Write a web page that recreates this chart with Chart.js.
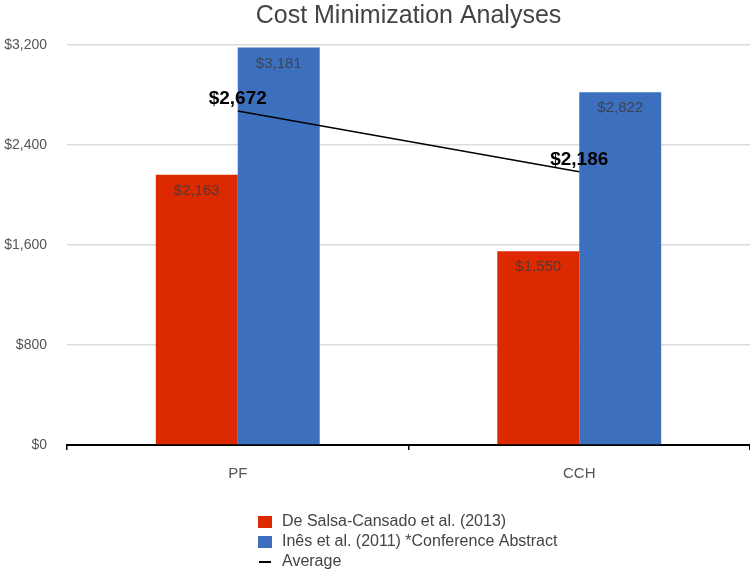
<!DOCTYPE html>
<html>
<head>
<meta charset="utf-8">
<script src="https://cdn.jsdelivr.net/npm/chart.js@4.4.1/dist/chart.umd.min.js"></script>
<style>
  html, body { margin: 0; padding: 0; background: #fff; }
  #wrap { width: 750px; height: 571px; position: relative; }
</style>
</head>
<body>
<div id="wrap"><canvas id="c"></canvas></div>
<script>
const categories = ["PF", "CCH"];
const salsaValues = [2163, 1550];
const inesValues = [3181, 2822];
const averageValues = [2672, 2186];
const yTicks = [0, 800, 1600, 2400, 3200];

const seriesLabels = [
  "De Salsa-Cansado et al. (2013)",
  "Inês et al. (2011) *Conference Abstract",
  "Average",
];

const FONT = "'Liberation Sans', Arial, sans-serif";
const RED = "#dc2900";
const BLUE = "#3d6fbf";

function money(v) {
  return "$" + v.toLocaleString("en-US");
}

// 라벨, 제목, 범례 그리기
const extras = {
  id: "extras",
  afterDatasetsDraw(chart) {
    const ctx = chart.ctx;
    const area = chart.chartArea;
    ctx.save();

    // 막대 값 라벨
    ctx.font = "15px " + FONT;
    ctx.fillStyle = "rgba(60,60,60,0.85)";
    ctx.textAlign = "center";
    ctx.textBaseline = "middle";
    [0, 1].forEach((di) => {
      const meta = chart.getDatasetMeta(di);
      meta.data.forEach((bar, i) => {
        const v = chart.data.datasets[di].data[i];
        ctx.fillText(money(v), bar.x, bar.y + 16);
      });
    });

    // 평균 값 라벨
    ctx.font = "bold 19px " + FONT;
    ctx.fillStyle = "#000";
    const lineMeta = chart.getDatasetMeta(2);
    lineMeta.data.forEach((pt, i) => {
      ctx.fillText(money(averageValues[i]), pt.x, pt.y - 12);
    });

    // 제목
    ctx.font = "25px " + FONT;
    ctx.fillStyle = "#444";
    ctx.fillText("Cost Minimization Analyses", (area.left + area.right) / 2, 16);

    // 범례
    const lx = 258, ly = 522, gap = 20;
    ctx.font = "16px " + FONT;
    ctx.textAlign = "left";
    ctx.fillStyle = RED;
    ctx.fillRect(lx, ly - 6, 14, 12);
    ctx.fillStyle = BLUE;
    ctx.fillRect(lx, ly + gap - 6, 14, 12);
    ctx.strokeStyle = "#000";
    ctx.lineWidth = 2;
    ctx.beginPath();
    ctx.moveTo(lx + 1, ly + 2 * gap);
    ctx.lineTo(lx + 13, ly + 2 * gap);
    ctx.stroke();
    ctx.fillStyle = "#444";
    seriesLabels.forEach((t, i) => {
      ctx.fillText(t, lx + 24, ly + i * gap);
    });

    ctx.restore();
  },
};

new Chart(document.getElementById("c"), {
  type: "bar",
  data: {
    labels: categories,
    datasets: [
      {
        label: seriesLabels[0],
        data: salsaValues,
        backgroundColor: RED,
        categoryPercentage: 0.48,
        barPercentage: 1.0,
        order: 2,
      },
      {
        label: seriesLabels[1],
        data: inesValues,
        backgroundColor: BLUE,
        categoryPercentage: 0.48,
        barPercentage: 1.0,
        order: 2,
      },
      {
        type: "line",
        label: seriesLabels[2],
        data: averageValues,
        borderColor: "#000",
        borderWidth: 1.5,
        pointRadius: 0,
        fill: false,
        order: 0,
      },
    ],
  },
  options: {
    responsive: true,
    maintainAspectRatio: false,
    animation: false,
    layout: { padding: { top: 45, right: 0, bottom: 73, left: 0 } },
    plugins: {
      legend: { display: false },
      title: { display: false },
      tooltip: { enabled: false },
    },
    scales: {
      x: {
        border: { color: "#000", width: 2 },
        grid: {
          drawOnChartArea: false,
          drawTicks: true,
          tickLength: 5,
          color: "#000",
          lineWidth: 1.5,
        },
        ticks: { color: "#555", font: { family: FONT, size: 15 }, padding: 15 },
      },
      y: {
        min: 0,
        max: 3200,
        afterBuildTicks(scale) {
          scale.ticks = yTicks.map((v) => ({ value: v }));
        },
        afterFit(scale) {
          scale.width = 67;
        },
        border: { display: false },
        grid: { color: "#dcdcdc", lineWidth: 1.5, drawTicks: false },
        ticks: {
          color: "#555",
          font: { family: FONT, size: 14 },
          padding: 20,
          callback: (v) => money(v),
        },
      },
    },
  },
  plugins: [extras],
});
</script>
</body>
</html>
